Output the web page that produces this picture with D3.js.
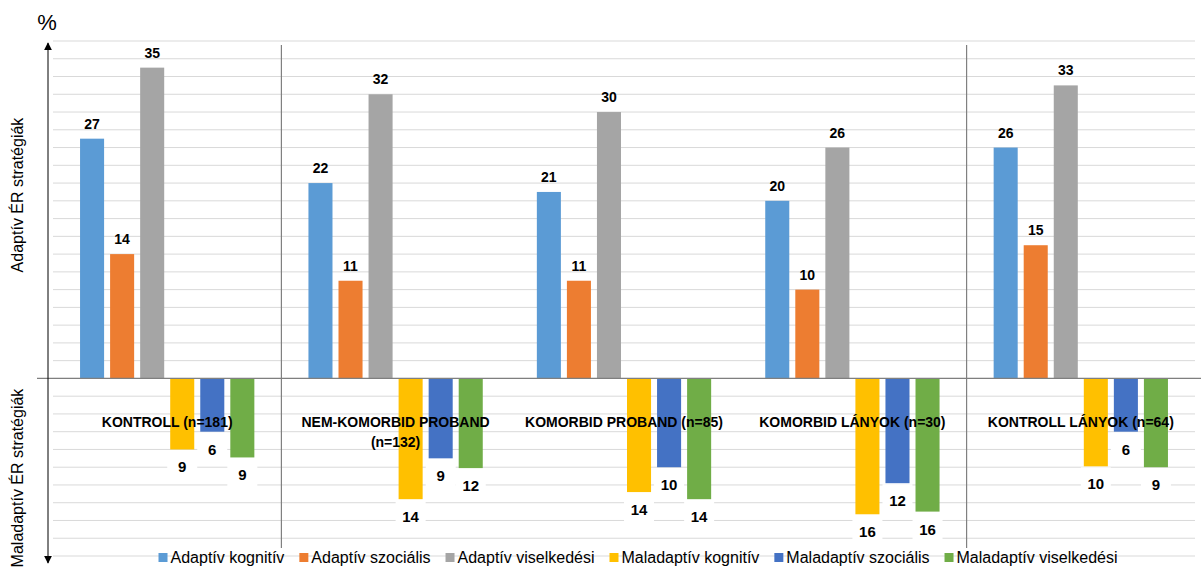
<!DOCTYPE html>
<html>
<head>
<meta charset="utf-8"/>
<script src="https://d3js.org/d3.v7.min.js"></script>
<style>
  body { margin: 0; background: #fff; }
  text { font-family: "Liberation Sans", Arial, sans-serif; fill: #000; }
</style>
</head>
<body>
<div id="chart"></div>
<script>
// categories (groups along x)
var categories = ["KONTROLL (n=181)", "NEM-KOMORBID PROBAND (n=132)", "KOMORBID PROBAND (n=85)", "KOMORBID LÁNYOK (n=30)", "KONTROLL LÁNYOK (n=64)"];

// series names
var seriesNames = ["Adaptív kognitív", "Adaptív szociális", "Adaptív viselkedési", "Maladaptív kognitív", "Maladaptív szociális", "Maladaptív viselkedési"];
var seriesColors = ["#5B9BD5", "#ED7D31", "#A5A5A5", "#FFC000", "#4472C4", "#70AD47"];

// bar values (as drawn), maladaptive drawn downward
var adaptivKognitiv = [27, 22, 21, 20, 26];
var adaptivSzocialis = [14, 11, 11, 10, 15];
var adaptivViselkedesi = [35, 32, 30, 26, 33];
var maladaptivKognitiv = [-8, -13.6, -12.8, -15.3, -9.9];
var maladaptivSzocialis = [-6, -9, -10, -11.8, -6];
var maladaptivViselkedesi = [-8.9, -10.1, -13.6, -15, -10];

// printed data labels
var adaptivKognitivLbl = [27, 22, 21, 20, 26];
var adaptivSzocialisLbl = [14, 11, 11, 10, 15];
var adaptivViselkedesiLbl = [35, 32, 30, 26, 33];
var maladaptivKognitivLbl = [9, 14, 14, 16, 10];
var maladaptivSzocialisLbl = [6, 9, 10, 12, 6];
var maladaptivViselkedesiLbl = [9, 12, 14, 16, 9];

var seriesValues = [adaptivKognitiv, adaptivSzocialis, adaptivViselkedesi, maladaptivKognitiv, maladaptivSzocialis, maladaptivViselkedesi];
var seriesLabels = [adaptivKognitivLbl, adaptivSzocialisLbl, adaptivViselkedesiLbl, maladaptivKognitivLbl, maladaptivSzocialisLbl, maladaptivViselkedesiLbl];

var yMin = -20, yMax = 38, yStep = 2;

var W = 1201, H = 572;
var svg = d3.select("#chart").append("svg").attr("width", W).attr("height", H);

var x = d3.scaleBand().domain(categories).range([53, 1195]);
var xs = d3.scaleBand().domain(d3.range(6)).range([0, x.bandwidth()]).paddingInner(0.2).paddingOuter(0.9);
var y = d3.scaleLinear().domain([yMin, yMax]).range([556, 41]);

// gridlines
svg.append("g").selectAll("line")
  .data(d3.range(yMin, yMax + 1, yStep))
  .enter().append("line")
  .attr("x1", 53).attr("x2", 1195)
  .attr("y1", function(d) { return y(d); }).attr("y2", function(d) { return y(d); })
  .attr("stroke", "#d9d9d9").attr("stroke-width", 1);

// group separators
svg.append("g").selectAll("line")
  .data([categories[1], categories[4]])
  .enter().append("line")
  .attr("x1", function(d) { return x(d); }).attr("x2", function(d) { return x(d); })
  .attr("y1", 45).attr("y2", 548)
  .attr("stroke", "#808080").attr("stroke-width", 1.2);

// bars
var rows = [];
seriesValues.forEach(function(vals, s) {
  vals.forEach(function(v, c) {
    rows.push({s: s, c: categories[c], v: v, lbl: seriesLabels[s][c]});
  });
});

svg.append("g").selectAll("rect")
  .data(rows)
  .enter().append("rect")
  .attr("x", function(d) { return x(d.c) + xs(d.s); })
  .attr("width", xs.bandwidth())
  .attr("y", function(d) { return y(Math.max(0, d.v)); })
  .attr("height", function(d) { return Math.abs(y(d.v) - y(0)); })
  .attr("fill", function(d) { return seriesColors[d.s]; });

// zero line
svg.append("line")
  .attr("x1", 37).attr("x2", 1201)
  .attr("y1", y(0)).attr("y2", y(0))
  .attr("stroke", "#7f7f7f").attr("stroke-width", 1.3);

// value labels
var lab = svg.append("g");
rows.forEach(function(d) {
  var cx = x(d.c) + xs(d.s) + xs.bandwidth() / 2;
  if (d.v >= 0) {
    lab.append("text")
      .attr("x", cx).attr("y", y(d.v) - 10)
      .attr("text-anchor", "middle")
      .style("font-size", "14px").style("font-weight", "bold")
      .text(d.lbl);
  } else {
    lab.append("rect")
      .attr("x", cx - 15).attr("y", y(d.v) + 1)
      .attr("width", 30).attr("height", 29)
      .attr("fill", "#fff");
    lab.append("text")
      .attr("x", cx).attr("y", y(d.v) + 23)
      .attr("text-anchor", "middle")
      .style("font-size", "15px").style("font-weight", "bold")
      .text(d.lbl);
  }
});

// category labels (wrap if too wide for the band)
categories.forEach(function(cat) {
  var t = svg.append("text")
    .attr("text-anchor", "middle")
    .style("font-size", "14px").style("font-weight", "bold");
  var cx = x(cat) + x.bandwidth() / 2;
  var words = cat.split(" "), line = [], lineNo = 0;
  var tspan = t.append("tspan").attr("x", cx).attr("y", 427);
  words.forEach(function(w) {
    line.push(w);
    tspan.text(line.join(" "));
    if (tspan.node().getComputedTextLength() > 220 && line.length > 1) {
      line.pop();
      tspan.text(line.join(" "));
      line = [w];
      lineNo++;
      tspan = t.append("tspan").attr("x", cx).attr("y", 427 + lineNo * 20).text(w);
    }
  });
});

// y axis with arrows
var defs = svg.append("defs");
defs.append("marker").attr("id", "arr")
  .attr("viewBox", "0 0 10 10").attr("refX", 9).attr("refY", 5)
  .attr("markerWidth", 8).attr("markerHeight", 8)
  .attr("markerUnits", "userSpaceOnUse")
  .attr("orient", "auto-start-reverse")
  .append("path").attr("d", "M0,0 L10,5 L0,10 z").attr("fill", "#000");
svg.append("line")
  .attr("x1", 48).attr("x2", 48).attr("y1", 43).attr("y2", 563)
  .attr("stroke", "#000").attr("stroke-width", 1)
  .attr("marker-start", "url(#arr)").attr("marker-end", "url(#arr)");

svg.append("text").attr("x", 47).attr("y", 30)
  .attr("text-anchor", "middle").style("font-size", "22px").text("%");

svg.append("text")
  .attr("transform", "translate(23,195) rotate(-90)")
  .attr("text-anchor", "middle").style("font-size", "16px")
  .text("Adaptív ÉR stratégiák");
svg.append("text")
  .attr("transform", "translate(23,478) rotate(-90)")
  .attr("text-anchor", "middle").style("font-size", "16px")
  .text("Maladaptív ÉR stratégiák");

// legend
var leg = svg.append("g");
var lx = 0;
seriesNames.forEach(function(name, i) {
  var g = leg.append("g").attr("transform", "translate(" + lx + ",0)");
  g.append("rect").attr("x", 0).attr("y", -5).attr("width", 9).attr("height", 9).attr("fill", seriesColors[i]);
  var t = g.append("text").attr("x", 12).attr("y", 5).style("font-size", "16px").text(name);
  lx += 12 + t.node().getComputedTextLength() + 15;
});
lx -= 15;
leg.attr("transform", "translate(" + (638 - lx / 2) + ",558)");
</script>
</body>
</html>
